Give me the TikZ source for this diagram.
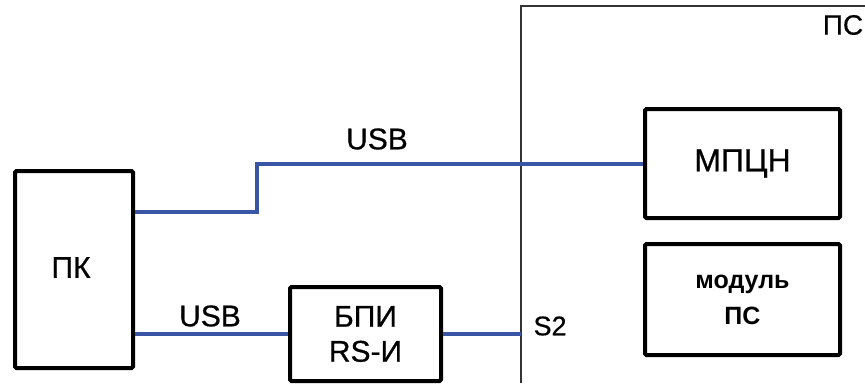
\documentclass[tikz,border=0pt]{standalone}
\usepackage{fontspec}
\setmainfont{Liberation Sans}[UprightFeatures={FakeBold=0.6}]
\definecolor{usbblue}{HTML}{3A55A5}
\begin{document}
\begin{tikzpicture}[x=1pt, y=-1pt,
    blok/.style={draw, line width=4pt, rounded corners=1.5pt, align=center, inner sep=0pt,
      font=\fontsize{30}{35}\selectfont},
    svyaz/.style={draw=usbblue, line width=4pt},
    metka/.style={font=\fontsize{30}{35}\selectfont}]
    \useasboundingbox (0,0) rectangle (865,383);
    % Рамка ПС
    \draw[line width=1.5pt, black!80] (521,383) |- (865,6);
    \node (ps) at (843,25) {\fontsize{28}{35}\selectfont ПС};
    \coordinate (s2) at (521,334);
    
    % Блоки
    \node[blok, minimum width=118, minimum height=197] (pk) at (74,269.5) {\raisebox{4pt}{ПК}\hspace*{6pt}};
    \node[blok, minimum width=151, minimum height=94] (bpi) at (365.5,334) {БПИ\\RS-И};
    \node[blok, minimum width=195, minimum height=109, font=\fontsize{32}{35}\selectfont] (mpcn) at (742.5,163.5) {МПЦН};
    \node[blok, minimum width=195, minimum height=111, font=\bfseries\fontsize{25}{36}\selectfont] (modul) at (742.5,299.5) {модуль\\ПС};
    
    % Линии связи
    \draw[svyaz] (pk.east |- 0,212) -- ++(122,0) |- (mpcn.west);
    \draw[svyaz] (pk.east |- bpi.west) -- (bpi.west);
    \draw[svyaz] (bpi.east) -- (s2);
    
    % Подписи
    \node[metka] (usb1) at (377,139) {USB};
    \node[metka] (usb2) at (210,316) {USB};
    \node[metka, anchor=west, font=\fontsize{27}{35}\selectfont] (s2t) at (530,326) {S2};
\end{tikzpicture}
\end{document}
